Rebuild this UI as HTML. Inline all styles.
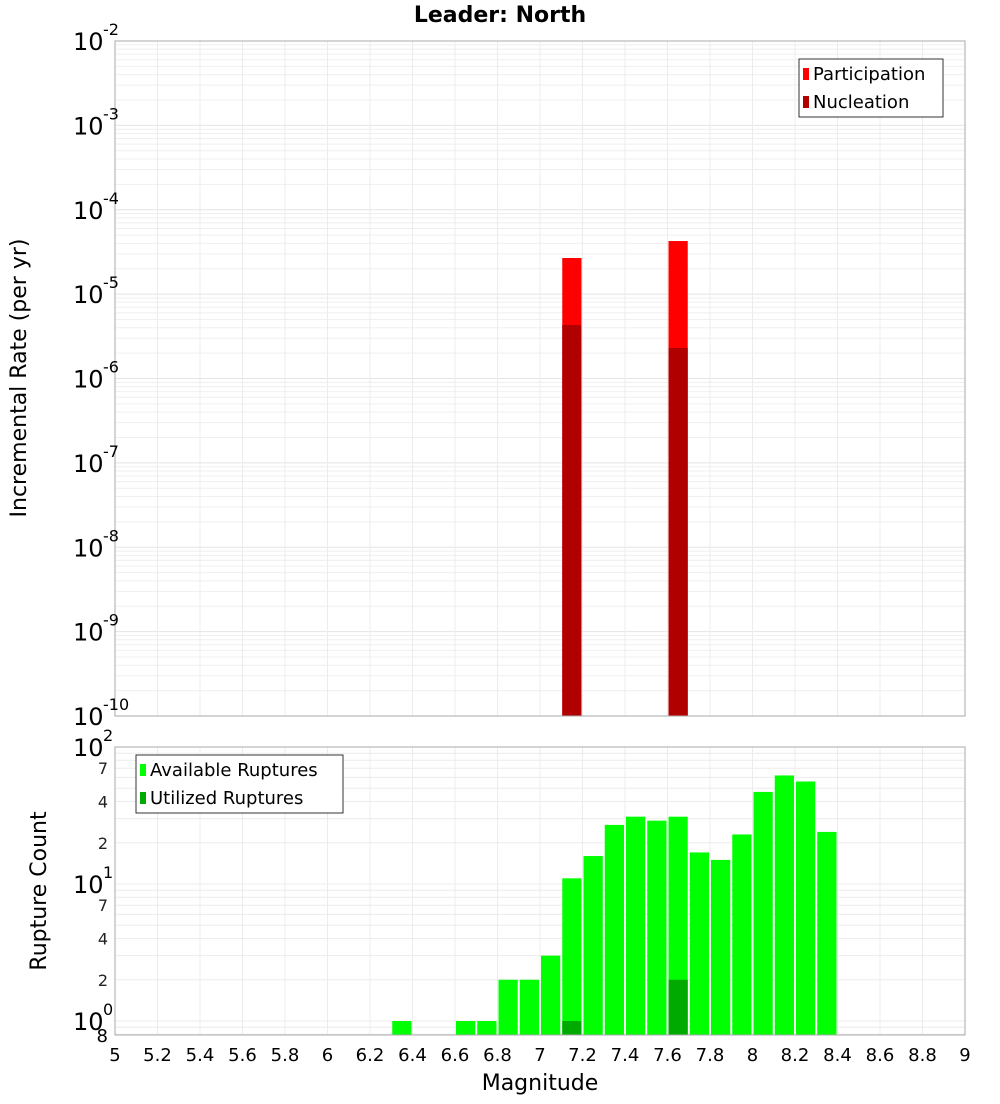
<!DOCTYPE html>
<html><head><meta charset="utf-8"><style>
body{margin:0;background:#fff;width:1000px;height:1100px;overflow:hidden;font-family:"DejaVu Sans","Liberation Sans",sans-serif}
svg text{font-family:"DejaVu Sans","Liberation Sans",sans-serif}
</style></head><body>
<svg id="c" width="1000" height="1100" xmlns="http://www.w3.org/2000/svg">
<text x="500" y="22" text-anchor="middle" font-size="22" font-weight="bold">Leader: North</text>
<text transform="translate(26,378) rotate(-90)" text-anchor="middle" font-size="22">Incremental Rate (per yr)</text>
<text transform="translate(46,891) rotate(-90)" text-anchor="middle" font-size="22">Rupture Count</text>
<text x="540" y="1090" text-anchor="middle" font-size="22">Magnitude</text>
<g id="topg"></g><g id="botg"></g>
</svg>
<script>
const topMags=[7.15,7.65];
const participation=[2.68e-5,4.26e-5];
const nucleation=[4.3e-6,2.3e-6];
const botMags=[6.35,6.65,6.75,6.85,6.95,7.05,7.15,7.25,7.35,7.45,7.55,7.65,7.75,7.85,7.95,8.05,8.15,8.25,8.35];
const available=[1,1,1,2,2,3,11,16,27,31,29,31,17,15,23,47,62,56,24];
const utilMags=[7.15,7.65];
const utilized=[1,2];
const xTicks=[5,5.2,5.4,5.6,5.8,6,6.2,6.4,6.6,6.8,7,7.2,7.4,7.6,7.8,8,8.2,8.4,8.6,8.8,9];
const topExp=[-2,-3,-4,-5,-6,-7,-8,-9,-10];
const botMinor=[2,4,7];

const NS="http://www.w3.org/2000/svg";
const L=115,R=965;
const X=m=>L+(m-5)/4*(R-L);
const T0=41,T1=716; const YT=v=>T0+(-2-Math.log10(v))*(T1-T0)/8;
const B0=747,B1=1035; const YB=v=>1021-Math.log10(v)*137;
function el(p,tag,a){const e=document.createElementNS(NS,tag);for(const k in a)e.setAttribute(k,a[k]);p.appendChild(e);return e;}
const gTop=document.getElementById('topg'),gBot=document.getElementById('botg');

for(let d=-10;d<-2;d++)for(let k=1;k<10;k++){const y=YT(k*Math.pow(10,d));
 const g=el(gTop,'line',{x1:L,x2:R,y1:y,y2:y,stroke:k==1?'#e4e4e4':'#efefef','stroke-width':1});
 
 }
for(let i=0;i<=20;i++){const x=X(5+i*0.2);const g=el(gTop,'line',{x1:x,x2:x,y1:T0,y2:T1,stroke:'#ececec'});
 
 
 const g2=el(gBot,'line',{x1:x,x2:x,y1:B0,y2:B1,stroke:'#ececec'});
 
 }
for(let d=-1;d<2;d++)for(let k=1;k<10;k++){const v=k*Math.pow(10,d);const y=YB(v);if(y<B0||y>B1)continue;
 const g=el(gBot,'line',{x1:L,x2:R,y1:y,y2:y,stroke:'#ececec'});
 
 }

const w=(R-L)/40;
topMags.forEach((m,i)=>{
 let r=el(gTop,'rect',{x:X(m)-w/2+1,width:w-2,y:YT(participation[i]),height:T1-YT(participation[i]),fill:'#ff0000'});
 
 
 r=el(gTop,'rect',{x:X(m)-w/2+1,width:w-2,y:YT(nucleation[i]),height:T1-YT(nucleation[i]),fill:'#b00000'});
 
 
});
botMags.forEach((m,i)=>{
 const r=el(gBot,'rect',{x:X(m)-w/2+1,width:w-2,y:YB(available[i]),height:B1-YB(available[i]),fill:'#00ff00'});
 
 
});
utilMags.forEach((m,i)=>{
 const r=el(gBot,'rect',{x:X(m)-w/2+1,width:w-2,y:YB(utilized[i]),height:B1-YB(utilized[i]),fill:'#00aa00'});
 
 
});
let f=el(gTop,'rect',{x:L,y:T0,width:R-L,height:T1-T0,fill:'none',stroke:'#aaa'});


f=el(gBot,'rect',{x:L,y:B0,width:R-L,height:B1-B0,fill:'none',stroke:'#aaa'});



topExp.forEach(e=>{const y=YT(Math.pow(10,e));
 const t=el(gTop,'text',{x:73,y:y+9,'font-size':24});t.textContent='10';
 
 
 const s=el(gTop,'text',{x:103,y:y-6,'font-size':16});s.textContent=String(e);
 
 });
[0,1,2].forEach(e=>{const y=YB(Math.pow(10,e));
 const t=el(gBot,'text',{x:73,y:y+9,'font-size':24});t.textContent='10';
 
 
 const s=el(gBot,'text',{x:103,y:y-6,'font-size':16});s.textContent=String(e);
 
 });
[0,1].forEach(d=>botMinor.forEach(k=>{const y=YB(k*Math.pow(10,d));
 const t=el(gBot,'text',{x:108,y:y+6,'font-size':16,'text-anchor':'end',fill:'#222'});t.textContent=String(k);
 
 }));
{const t=el(gBot,'text',{x:108,y:1042,'font-size':18,'text-anchor':'end'});t.textContent='8';
 
 }
xTicks.forEach(v=>{const t=el(gBot,'text',{x:X(v),y:1061,'font-size':18,'text-anchor':'middle'});t.textContent=String(v);
 
 });

function legend(g,x,y,wd,items,name){const lg=el(g,'g',{});
 
 
 el(lg,'rect',{x:x,y:y,width:wd,height:items.length*28+2,fill:'#fff',stroke:'#333'});
 items.forEach((it,i)=>{el(lg,'rect',{x:x+4,y:y+9+i*28,width:6,height:12,fill:it[1]});
  const t=el(lg,'text',{x:x+14,y:y+21+i*28,'font-size':18});t.textContent=it[0];
  
  });}
legend(gTop,799,59,144,[['Participation','#ff0000'],['Nucleation','#b00000']],'top-legend');
legend(gBot,136,755,207,[['Available Ruptures','#00ff00'],['Utilized Ruptures','#00aa00']],'bottom-legend');
</script>
</body></html>
